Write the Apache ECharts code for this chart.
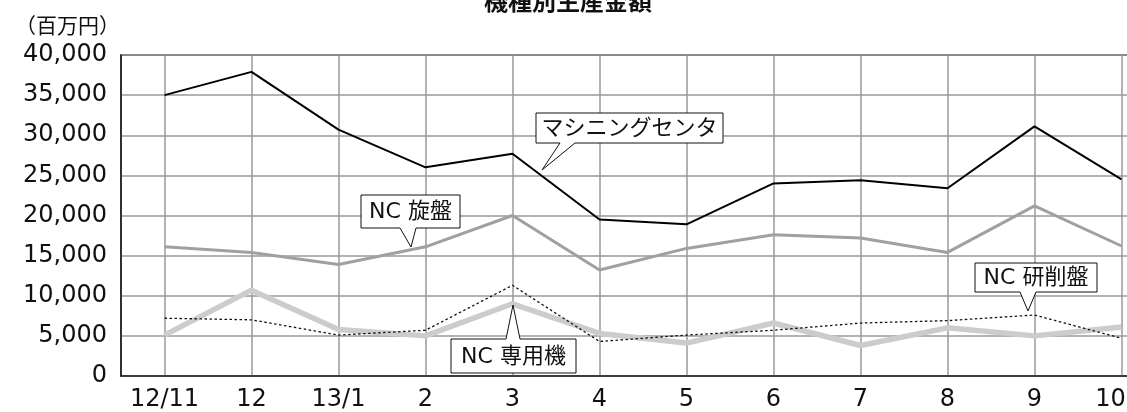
<!DOCTYPE html>
<html>
<head>
<meta charset="utf-8">
<script src="https://cdn.jsdelivr.net/npm/echarts@6/dist/echarts.min.js"></script>
<style>html,body{margin:0;padding:0;background:#fff;overflow:hidden;width:1127px;height:412px;}#c{width:1171px;height:412px;}</style>
</head>
<body>
<div id="c"></div>
<script>
const categories = ['12/11', '12', '13/1', '2', '3', '4', '5', '6', '7', '8', '9', '10'];
const machiningCenter = [35000, 37900, 30700, 26000, 27700, 19500, 18900, 24000, 24400, 23400, 31100, 24500];
const ncLathe = [16100, 15400, 13900, 16100, 20000, 13200, 15900, 17600, 17200, 15400, 21200, 16200];
const ncGrinder = [7200, 7000, 5100, 5700, 11300, 4300, 5100, 5700, 6600, 6900, 7600, 4700];
const ncSpecial = [5100, 10700, 5800, 5000, 9000, 5300, 4100, 6600, 3800, 6000, 5000, 6100];
const yTicks = [0, 5000, 10000, 15000, 20000, 25000, 30000, 35000, 40000];

const numFont = '"DejaVu Sans", "Noto Sans CJK JP", sans-serif';
const jpFont = '"DejaVu Sans", "Noto Sans CJK JP", sans-serif';

const chart = echarts.init(document.getElementById('c'), null, { renderer: 'canvas' });

function callout(text, x1, y1, x2, y2, bx1, bx2, tx, ty, side) {
  let pts;
  if (side === 'bottom') {
    pts = [[x1, y1], [x2, y1], [x2, y2], [bx2, y2], [tx, ty], [bx1, y2], [x1, y2]];
  } else {
    pts = [[x1, y1], [bx1, y1], [tx, ty], [bx2, y1], [x2, y1], [x2, y2], [x1, y2]];
  }
  return {
    type: 'group', z: 100,
    children: [
      { type: 'polygon', shape: { points: pts }, style: { fill: '#fff', stroke: '#111', lineWidth: 1 }, z: 100 },
      { type: 'text', x: (x1 + x2) / 2, y: (y1 + y2) / 2 + 1, z: 101,
        style: { text: text, fill: '#111', font: '22px ' + jpFont, textAlign: 'center', textVerticalAlign: 'middle' } }
    ]
  };
}

const option = {
  animation: false,
  backgroundColor: '#fff',
  title: [
    { text: '機種別生産金額', left: 479, top: -16, textStyle: { fontFamily: '"Noto Sans CJK JP", sans-serif', fontSize: 24, fontWeight: 'bold', color: '#111' } },
    { text: '（百万円）', left: 10, top: 10, textStyle: { fontFamily: '"Noto Sans CJK JP", sans-serif', fontSize: 21, fontWeight: 'normal', color: '#111' } }
  ],
  grid: { left: 121, top: 55, right: 6, bottom: 35, show: true, borderColor: '#222', borderWidth: 1.5 },
  xAxis: {
    type: 'category', data: categories, boundaryGap: true,
    axisLine: { lineStyle: { color: '#222', width: 1.5 } },
    axisTick: { show: false, alignWithLabel: true },
    splitLine: { show: true, alignWithLabel: true, lineStyle: { color: '#9a9a9a', width: 1.5 } },
    axisLabel: { color: '#111', fontSize: 24, fontFamily: numFont, margin: 12, interval: 0,
      formatter: (v, i) => i === categories.length - 1 ? '{e|' + v + '}' : v,
      rich: { e: { color: '#111', fontSize: 24, fontFamily: numFont, padding: [0, 22, 0, 0] } } }
  },
  yAxis: {
    type: 'value', min: 0, max: 40000, interval: 5000,
    axisLine: { show: true, lineStyle: { color: '#222', width: 1.5 } },
    axisTick: { show: false },
    splitLine: { show: true, lineStyle: { color: '#9a9a9a', width: 1.5 } },
    axisLabel: { color: '#111', fontSize: 24, fontFamily: numFont, margin: 14,
      formatter: v => yTicks.includes(v) ? v.toLocaleString('en-US') : '' }
  },
  series: [
    { name: 'NC専用機', type: 'line', data: ncSpecial, symbol: 'none', z: 2,
      lineStyle: { color: '#cccccc', width: 5.5 } },
    { name: 'NC研削盤', type: 'line', data: ncGrinder, symbol: 'none', z: 3,
      lineStyle: { color: '#111', width: 1.3, type: [2.5, 2.5] } },
    { name: 'NC旋盤', type: 'line', data: ncLathe, symbol: 'none', z: 4,
      lineStyle: { color: '#a0a0a0', width: 3 } },
    { name: 'マシニングセンタ', type: 'line', data: machiningCenter, symbol: 'none', z: 5,
      lineStyle: { color: '#000', width: 2 } }
  ],
  graphic: [
    callout('マシニングセンタ', 536, 113, 723, 143, 560, 575, 542, 170, 'bottom'),
    callout('NC 旋盤', 361, 195, 460, 228, 400, 416, 411, 247, 'bottom'),
    callout('NC 研削盤', 975, 263, 1097, 292, 1020, 1036, 1028, 311, 'bottom'),
    callout('NC 専用機', 451, 339, 576, 373, 506, 520, 513, 305, 'top')
  ]
};
chart.setOption(option);
</script>
</body>
</html>
